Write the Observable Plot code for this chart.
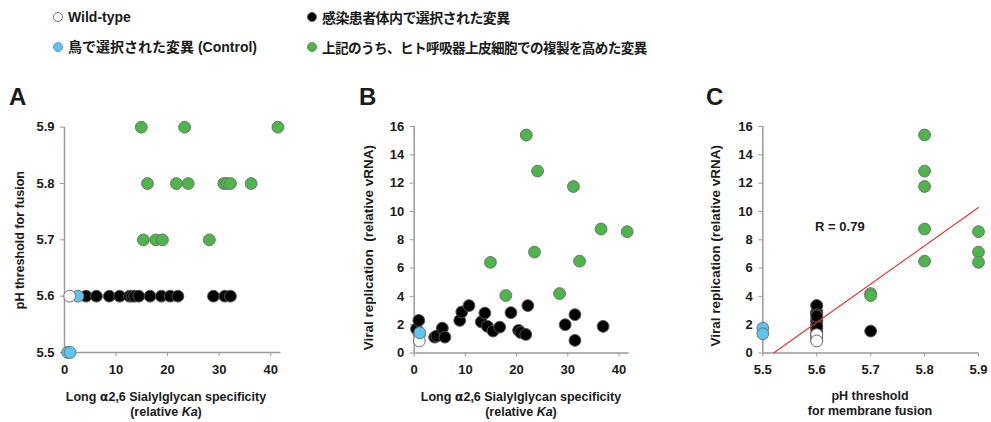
<!DOCTYPE html>
<html>
<head>
<meta charset="utf-8">
<script src="https://cdn.jsdelivr.net/npm/d3@7"></script>
<script src="https://cdn.jsdelivr.net/npm/@observablehq/plot@0.6"></script>
<style>
  html, body { margin: 0; padding: 0; background: #fff; }
  body { width: 991px; height: 422px; position: relative; overflow: hidden;
         font-family: "Liberation Sans", Arial, "Noto Sans CJK JP", sans-serif; font-weight: bold; color: #1a1a1a; }
  .leg { position: absolute; font-size: 14px; line-height: 16px; white-space: nowrap; }
  .leg .sym { position: absolute; width: 10px; height: 10px; border-radius: 50%; box-sizing: border-box; }
  .letter { position: absolute; font-size: 24px; font-family: "Liberation Sans", Arial, sans-serif; }
  .panel { position: absolute; top: 100px; }
  .title { position: absolute; font-size: 12.5px; line-height: 15px; text-align: center; white-space: nowrap; transform: translateX(-50%); }
  .ybox { position: absolute; width: 20px; height: 300px; display: flex; align-items: center; justify-content: center; }
  .ybox span { writing-mode: vertical-rl; transform: rotate(180deg); white-space: nowrap; line-height: 16px; }
  .panel svg [aria-label="x-axis tick"], .panel svg [aria-label="y-axis tick"] { stroke: #9a9a9a; }
</style>
</head>
<body>
<div id="legend"></div>
<div class="letter" style="left:9px; top:83px;">A</div>
<div class="letter" style="left:359px; top:83px;">B</div>
<div class="letter" style="left:706px; top:83px;">C</div>

<div id="pA" class="panel" style="left:0px;"></div>
<div id="pB" class="panel" style="left:330px;"></div>
<div id="pC" class="panel" style="left:680px;"></div>

<!-- y-axis titles: box centred at (left+10, top+150) -->
<div class="ybox" style="left:10px; top:90px; font-size:12.5px;"><span>pH threshold for fusion</span></div>
<div class="ybox" style="left:359px; top:98px; font-size:13.5px;"><span>Viral replication&nbsp; (relative vRNA)</span></div>
<div class="ybox" style="left:706px; top:96px; font-size:13.5px;"><span>Viral replication (relative vRNA)</span></div>

<div class="title" style="left:166px; top:389px;">Long <span style="font-family:'DejaVu Sans'">α</span>2,6 Sialylglycan specificity<br>(relative <i>Ka</i>)</div>
<div class="title" style="left:521px; top:389px;">Long <span style="font-family:'DejaVu Sans'">α</span>2,6 Sialylglycan specificity<br>(relative <i>Ka</i>)</div>
<div class="title" style="left:870px; top:389px;">pH threshold<br>for membrane fusion</div>

<script>
// ---------------- Legend ----------------
const legendLabels = ["Wild-type", "感染患者体内で選択された変異", "鳥で選択された変異 (Control)", "上記のうち、ヒト呼吸器上皮細胞での複製を高めた変異"];
const legendFills = ["#ffffff", "#000000", "#5bc5ef", "#4cb648"];
const legendStrokes = ["#707070", "#555555", "#6b9fb5", "#5f8f5a"];

// ---------------- Panel A: α2,6 specificity (x) vs pH threshold (y) ----------------
const aWildX = [1.0];
const aWildPH = [5.6];
const aBlueX = [2.6, 0.6, 1.1];
const aBluePH = [5.6, 5.5, 5.5];
const aBlackX = [4.2, 6.2, 8.7, 10.7, 12.6, 13.1, 13.6, 14.4, 16.6, 18.8, 20.5, 22.0, 28.9, 31.1, 32.2];
const aBlackPH = [5.6, 5.6, 5.6, 5.6, 5.6, 5.6, 5.6, 5.6, 5.6, 5.6, 5.6, 5.6, 5.6, 5.6, 5.6];
const aGreenX = [14.9, 23.3, 41.4, 16.1, 21.7, 24.0, 30.9, 31.5, 32.2, 36.2, 15.3, 17.7, 19.0, 28.1];
const aGreenPH = [5.9, 5.9, 5.9, 5.8, 5.8, 5.8, 5.8, 5.8, 5.8, 5.8, 5.7, 5.7, 5.7, 5.7];

// ---------------- Panel B: α2,6 specificity (x) vs viral replication (y) ----------------
const bWildX = [1.0, 1.0];
const bWildV = [1.3, 0.85];
const bBlueX = [1.1];
const bBlueV = [1.43];
const bBlackX = [0.45, 0.9, 4.0, 4.4, 5.5, 6.0, 8.9, 9.3, 10.7, 13.1, 13.8, 14.3, 15.4, 16.7, 18.9, 20.4, 20.8, 21.8, 22.2, 29.5, 31.4, 31.4, 36.9];
const bBlackV = [1.7, 2.3, 1.12, 1.2, 1.76, 1.12, 2.3, 2.9, 3.35, 2.2, 2.82, 1.88, 1.55, 1.83, 2.85, 1.6, 1.45, 1.31, 3.35, 2.0, 2.71, 0.89, 1.88];
const bGreenX = [21.9, 24.1, 31.1, 36.5, 41.6, 23.5, 32.3, 14.9, 17.9, 28.4];
const bGreenV = [15.4, 12.85, 11.76, 8.76, 8.57, 7.13, 6.49, 6.4, 4.06, 4.2];

// ---------------- Panel C: pH threshold (x) vs viral replication (y) ----------------
const cWildPH = [5.6, 5.6];
const cWildV = [1.3, 0.85];
const cBluePH = [5.5, 5.5];
const cBlueV = [1.76, 1.36];
const cBlackPH = [5.6, 5.6, 5.6, 5.6, 5.6, 5.6, 5.6, 5.6, 5.6, 5.6, 5.6, 5.6, 5.6, 5.6, 5.6, 5.6, 5.6, 5.6, 5.6, 5.6, 5.7];
const cBlackV = [1.7, 2.3, 1.12, 1.76, 2.3, 2.9, 3.35, 2.2, 2.82, 1.88, 1.83, 2.85, 1.45, 1.31, 3.35, 2.0, 2.71, 0.89, 1.88, 2.6, 1.55];
const cGreenPH = [5.7, 5.7, 5.8, 5.8, 5.8, 5.8, 5.8, 5.9, 5.9, 5.9];
const cGreenV = [4.2, 4.05, 15.4, 12.85, 11.76, 8.76, 6.49, 8.57, 7.13, 6.4];
const cFitPH = [5.52, 5.9];
const cFitV = [0, 10.28];
const cLabel = ["R = 0.79"];
const cLabelPH = [5.597];
const cLabelV = [8.93];

// tick labels
const phTicks = [5.5, 5.6, 5.7, 5.8, 5.9];
const kaTicks = [0, 10, 20, 30, 40];
const vTicks = [0, 2, 4, 6, 8, 10, 12, 14, 16];

// ---------------- helpers ----------------
const zip = (xs, ys) => xs.map((x, i) => ({x, y: ys[i]}));
const AX = "#9a9a9a";
const FONT = '"Liberation Sans", Arial, sans-serif';
const C_WHITE = "#ffffff", C_BLACK = "#000000", C_BLUE = "#5bc5ef", C_GREEN = "#4cb648";
const S_LIGHT = "#707070", S_BLACK = "#555555";

function dots(data, fill, stroke) {
  return Plot.dot(data, {x: "x", y: "y", r: 5.9, fill, stroke, strokeWidth: 1});
}

function basePlot(opts, marks) {
  return Plot.plot({
    width: opts.width, height: 290,
    marginLeft: opts.ml, marginRight: opts.mr, marginTop: opts.mt, marginBottom: opts.mb,
    x: {domain: opts.xd, ticks: opts.xt, tickFormat: opts.xf},
    y: {domain: opts.yd, ticks: opts.yt, tickFormat: opts.yf},
    style: {fontFamily: FONT, fontSize: "13px", fontWeight: "bold", color: "#1a1a1a", background: "transparent", overflow: "visible"},
    marks: [
      Plot.ruleX([opts.xd[0]], {stroke: AX, strokeWidth: 1.5}),
      Plot.ruleY([opts.yd[0]], {stroke: AX, strokeWidth: 1.5}),
      Plot.axisX({ticks: opts.xt, tickFormat: opts.xf, tickSize: 4, tickPadding: 8, label: null}),
      Plot.axisY({ticks: opts.yt, tickFormat: opts.yf, tickSize: 4, tickPadding: 6, label: null}),
      ...marks
    ]
  });
}

// Panel A
document.getElementById("pA").append(basePlot(
  {width: 300, ml: 64, mr: 19.5, mt: 26.7, mb: 38, xd: [0, 42], xt: kaTicks, xf: d3.format("d"),
   yd: [5.5, 5.9], yt: phTicks, yf: d3.format(".1f")},
  [
    dots(zip(aBlackX, aBlackPH), C_BLACK, S_BLACK),
    dots(zip(aGreenX, aGreenPH), C_GREEN, S_LIGHT),
    dots(zip(aBlueX, aBluePH), C_BLUE, S_LIGHT),
    dots(zip(aWildX, aWildPH), C_WHITE, S_LIGHT)
  ]
));

// Panel B
document.getElementById("pB").append(basePlot(
  {width: 310, ml: 83.7, mr: 11.3, mt: 26, mb: 37.5, xd: [0, 42], xt: kaTicks, xf: d3.format("d"),
   yd: [0, 16], yt: vTicks, yf: d3.format("d")},
  [
    dots(zip(bWildX, bWildV), C_WHITE, S_LIGHT),
    dots(zip(bBlackX, bBlackV), C_BLACK, S_BLACK),
    dots(zip(bBlueX, bBlueV), C_BLUE, S_LIGHT),
    dots(zip(bGreenX, bGreenV), C_GREEN, S_LIGHT)
  ]
));

// Panel C
document.getElementById("pC").append(basePlot(
  {width: 311, ml: 82.3, mr: 13, mt: 26, mb: 37.5, xd: [5.5, 5.9], xt: phTicks, xf: d3.format(".1f"),
   yd: [0, 16], yt: vTicks, yf: d3.format("d")},
  [
    dots(zip(cBlackPH, cBlackV), C_BLACK, S_BLACK),
    dots(zip(cWildPH, cWildV), C_WHITE, S_LIGHT),
    dots(zip(cBluePH, cBlueV), C_BLUE, S_LIGHT),
    dots(zip(cGreenPH, cGreenV), C_GREEN, S_LIGHT),
    Plot.line(zip(cFitPH, cFitV), {x: "x", y: "y", stroke: "#e8312a", strokeWidth: 1.1}),
    Plot.text(cLabel, {x: (d, i) => cLabelPH[i], y: (d, i) => cLabelV[i], text: d => d, textAnchor: "start", fontSize: 13, fontWeight: "bold", fill: "#1a1a1a"})
  ]
));

// Legend (HTML)
const legPos = [[58, 17], [312, 17], [58, 47], [312, 47]];
const legSizes = [14, 14, 14, 13.6];
const legSpacing = [0, -0.6, 0, -0.6];
const leg = document.getElementById("legend");
legendLabels.forEach((lab, i) => {
  const [cx, cy] = legPos[i];
  const s = document.createElement("span");
  s.className = "leg";
  s.style.left = "0px"; s.style.top = "0px";
  const c = document.createElement("span");
  c.className = "sym";
  c.style.left = (cx - 5) + "px"; c.style.top = (cy - 5) + "px";
  c.style.background = legendFills[i];
  c.style.border = "1px solid " + legendStrokes[i];
  s.appendChild(c);
  leg.appendChild(s);
  const t = document.createElement("div");
  t.className = "leg";
  t.style.left = (cx + 10) + "px";
  t.style.top = (cy - 8) + "px";
  t.style.fontSize = legSizes[i] + "px";
  t.style.letterSpacing = legSpacing[i] + "px";
  t.textContent = lab;
  if (i % 2 === 1) t.style.fontFamily = '"Noto Sans CJK JP", "Liberation Sans", sans-serif';
  leg.appendChild(t);
});
</script>
</body>
</html>
